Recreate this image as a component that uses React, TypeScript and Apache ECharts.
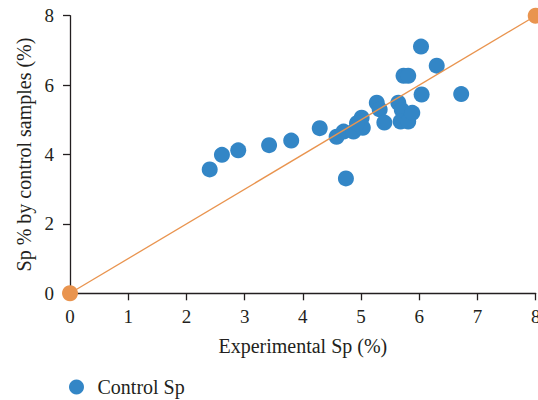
import React, { useEffect, useRef } from "react";
import * as echarts from "echarts";

const experimentalSp = [2.40, 2.61, 2.89, 3.42, 3.80, 4.29, 4.58, 4.70, 4.87, 5.01, 5.03, 4.93, 4.74, 5.27, 5.32, 5.40, 5.64, 5.70, 5.68, 5.81, 5.88, 5.73, 5.81, 6.03, 6.04, 6.30, 6.72];
const controlSp = [3.57, 3.99, 4.12, 4.27, 4.40, 4.76, 4.51, 4.66, 4.66, 5.06, 4.77, 4.90, 3.31, 5.49, 5.30, 4.92, 5.49, 5.28, 4.95, 4.95, 5.20, 6.27, 6.27, 7.11, 5.73, 6.56, 5.74];
const refLineX = [0, 8];
const refLineY = [0, 8];
const xTicks = [0, 1, 2, 3, 4, 5, 6, 7, 8];
const yTicks = [0, 2, 4, 6, 8];

const FONT = "'Liberation Serif', 'DejaVu Serif', serif";
const TEXT = "#231f20";
const BLUE = "#3386c6";
const ORANGE = "#e9944f";

export default function App() {
  const ref = useRef<HTMLDivElement>(null);
  useEffect(() => {
    if (!ref.current) return;
    const chart = echarts.init(ref.current, null, { renderer: "svg" });
    const axisCommon = {
      axisLine: { show: true, lineStyle: { color: TEXT, width: 1.3 } },
      axisTick: { show: true, length: 7, lineStyle: { color: TEXT, width: 1.3 } },
      splitLine: { show: false },
      nameTextStyle: { fontFamily: FONT, fontSize: 20, color: TEXT },
    };
    chart.setOption({
      animation: false,
      grid: { left: 70, right: 2.3, top: 15.7, bottom: 106.7, containLabel: false, outerBoundsMode: "none" },
      legend: {
        data: ["Control Sp"],
        left: 64,
        top: 372,
        icon: "circle",
        itemWidth: 32,
        itemHeight: 15,
        itemGap: 10,
        textStyle: { fontFamily: FONT, fontSize: 20, color: TEXT },
      },
      xAxis: {
        ...axisCommon,
        type: "value",
        min: xTicks[0],
        max: xTicks[xTicks.length - 1],
        interval: 1,
        name: "Experimental Sp (%)",
        nameLocation: "middle",
        nameGap: 43,
        axisLabel: { fontFamily: FONT, fontSize: 19, color: TEXT, margin: 14 },
      },
      yAxis: {
        ...axisCommon,
        type: "value",
        min: yTicks[0],
        max: yTicks[yTicks.length - 1],
        interval: 2,
        name: "Sp % by control samples (%)",
        nameLocation: "middle",
        nameGap: 36,
        axisLabel: { fontFamily: FONT, fontSize: 19, color: TEXT, margin: 16 },
      },
      series: [
        {
          name: "Reference",
          type: "line",
          data: refLineX.map((x, i) => [x, refLineY[i]]),
          symbol: "circle",
          symbolSize: 16,
          showSymbol: true,
          clip: false,
          lineStyle: { color: ORANGE, width: 1.3 },
          itemStyle: { color: ORANGE },
          z: 3,
        },
        {
          name: "Control Sp",
          type: "scatter",
          data: experimentalSp.map((x, i) => [x, controlSp[i]]),
          symbol: "circle",
          symbolSize: 16,
          itemStyle: { color: BLUE, opacity: 1 },
          clip: false,
          z: 2,
        },
      ],
    });
    return () => chart.dispose();
  }, []);
  return <div ref={ref} style={{ width: 538, height: 400, position: "absolute", left: 0, top: 0 }} />;
}
